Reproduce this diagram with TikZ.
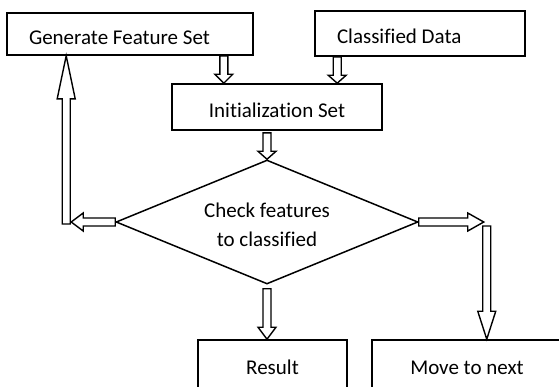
\documentclass[tikz,border=0pt]{standalone}
\usepackage{fontspec}
\setmainfont{Carlito}[Ligatures=NoCommon]
\usetikzlibrary{calc,shapes.geometric}
\tikzset{
  box/.style={draw, line width=1.6pt, inner ysep=0pt, text height=22pt, text depth=2pt},
  boxl/.style={box, align=flush left, inner xsep=22pt},
  dec/.style={draw, diamond, aspect=2.4, line width=1.5pt, inner sep=0pt, minimum width=302pt, minimum height=124pt, align=center},
  arr/.style={draw, line width=1.4pt, line join=miter, fill=white},
}
% hollow block arrow: [head length]{from}{to}
\newcommand{\hollowarrow}[3][10pt]{%
  \coordinate (hb) at ($(#3)!#1!(#2)$);
  \draw[arr] ($(#2)!4pt!90:(#3)$) -- ($(hb)!4pt!-90:(#2)$) -- ($(hb)!9pt!-90:(#2)$)
    -- (#3) -- ($(hb)!9pt!90:(#2)$) -- ($(hb)!4pt!90:(#2)$) -- ($(#2)!4pt!-90:(#3)$) -- cycle;
}

\begin{document}
\begin{tikzpicture}[x=1pt, y=-1pt, font=\fontsize{21pt}{29pt}\selectfont]
\clip (0,0) rectangle (559,386);
% boxes
\node[boxl, text width=202pt, minimum height=42pt] (gen) at (130,34) {Generate Feature Set};
\node[boxl, text width=166pt, minimum height=45pt] (cls) at (420,33.5) {Classified Data};
\node[box, minimum width=210pt, minimum height=46pt] (init) at (277,107) {Initialization Set};
\node[dec] (chk) at (267,222) {\rule{0pt}{21pt}Check features\\to classified};
\node[box, minimum width=149pt, minimum height=48pt] (res) at (272.5,364) {Result};
\node[box, minimum width=190pt, minimum height=48pt] (next) at (467,364) {Move to next};
% arrow ends
\coordinate (g1) at ([xshift=-30pt]gen.south east);
\coordinate (g2) at (g1 |- init.north);
\coordinate (c1) at ([xshift=23pt]cls.south west);
\coordinate (c2) at (c1 |- init.north);
\coordinate (i1) at ([yshift=-2pt]init.south -| chk.north);
\coordinate (u2) at ([xshift=60pt]gen.south west);
\coordinate (u1) at ([yshift=-2pt]u2 |- chk.west);
\coordinate (l1) at ([xshift=5pt]u1 |- chk.west);
\coordinate (r1) at ([xshift=65pt]chk.east);
\coordinate (d1) at ([xshift=3pt,yshift=-4pt]r1);
\coordinate (d2) at (d1 |- next.north);
\coordinate (s1) at ([yshift=-4pt]chk.south);
\coordinate (s2) at (s1 |- res.north);
% arrows
\hollowarrow[9pt]{g1}{g2}
\hollowarrow[8pt]{c1}{c2}
\hollowarrow[8pt]{i1}{chk.north}
\hollowarrow[43pt]{u1}{u2}
\hollowarrow[12pt]{chk.west}{l1}
\hollowarrow[16pt]{chk.east}{r1}
\hollowarrow[28pt]{d1}{d2}
\hollowarrow[12pt]{s1}{s2}
\end{tikzpicture}
\end{document}
